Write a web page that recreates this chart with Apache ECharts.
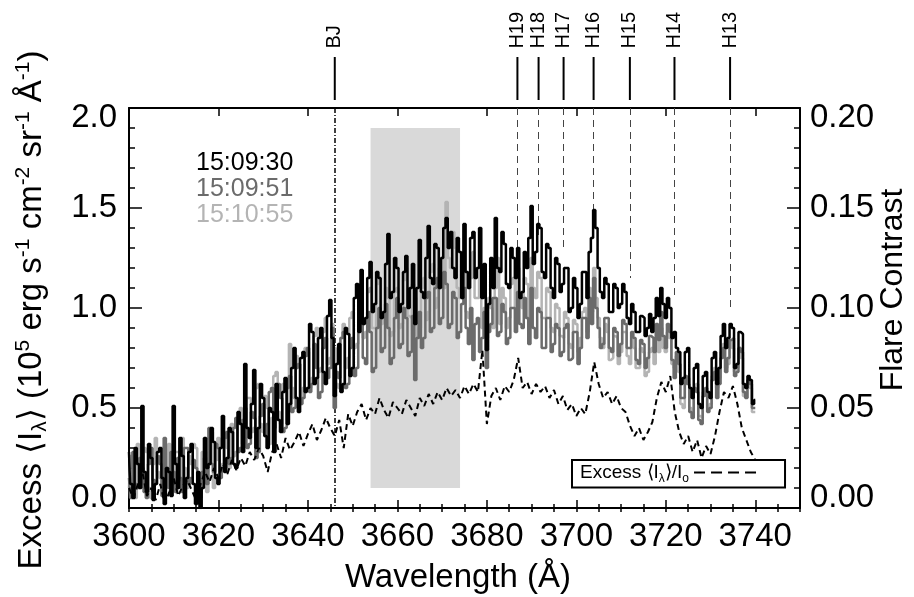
<!DOCTYPE html>
<html>
<head>
<meta charset="utf-8">
<script src="https://cdn.jsdelivr.net/npm/echarts@6/dist/echarts.min.js"></script>
<style>
  html, body { margin: 0; padding: 0; background: #fff; }
  #chart { width: 914px; height: 597px; }
</style>
</head>
<body>
<div id="chart"></div>
<script>
const FONT = '"Liberation Sans", Arial, Helvetica, sans-serif';

// spectra sampled 3600 .. 3740 A every 0.5 A
const specStart = 3600;
const specStep = 0.5;
// contrast sampled every 1 A
const contrastStart = 3600;
const contrastStep = 1;

// excess intensity, 10^5 erg/s/cm2/sr/A
const flux093 = [
  0.28, 0.12, 0.05, 0.30, 0.22, 0.10, 0.51, 0.18, 0.08, 0.32,
  0.25, 0.04, 0.12, 0.28, 0.30, 0.15, 0.02, 0.20, 0.18, 0.06,
  0.51, 0.22, 0.10, 0.35, 0.26, 0.05, 0.15, 0.28, 0.32, 0.12,
  0.02, 0.18, 0.00, 0.10, 0.35, 0.20, 0.22, 0.40, 0.33, 0.15,
  0.12, 0.30, 0.46, 0.18, 0.25, 0.40, 0.38, 0.22, 0.20, 0.48,
  0.42, 0.28, 0.72, 0.40, 0.35, 0.52, 0.69, 0.30, 0.40, 0.62,
  0.55, 0.36, 0.30, 0.50, 0.48, 0.28, 0.62, 0.44, 0.38, 0.58,
  0.65, 0.42, 0.52, 0.70, 0.80, 0.55, 0.48, 0.75, 0.78, 0.58,
  0.60, 0.92, 0.88, 0.62, 0.65, 0.85, 0.90, 0.68, 0.62, 0.96,
  1.04, 0.85, 0.56, 0.72, 0.82, 0.58, 0.62, 0.90, 0.87, 0.66,
  0.70, 1.05, 1.12, 0.88, 1.19, 0.92, 0.95, 1.15, 1.23, 0.98,
  1.02, 1.18, 1.15, 0.95, 0.98, 1.22, 1.37, 1.05, 1.08, 1.25,
  1.20, 0.98, 1.02, 1.18, 1.26, 1.00, 1.10, 1.22, 0.92, 1.10,
  1.34, 1.08, 1.05, 1.25, 1.41, 1.15, 1.12, 1.32, 1.30, 1.10,
  1.25, 1.40, 1.45, 1.30, 1.38, 1.20, 1.15, 1.35, 1.28, 1.05,
  1.42, 1.18, 1.10, 1.35, 1.38, 1.15, 1.20, 1.40, 1.05, 1.22,
  0.79, 1.02, 1.25, 1.10, 1.45, 1.20, 1.18, 1.38, 1.32, 1.12,
  1.10, 1.30, 1.25, 1.15, 1.30, 1.05, 1.08, 1.28, 1.20, 1.35,
  1.51, 1.22, 1.28, 1.42, 1.40, 1.18, 1.15, 1.32, 1.30, 1.10,
  1.05, 1.25, 1.22, 1.08, 1.12, 1.20, 1.20, 0.98, 1.00, 1.15,
  1.10, 0.95, 1.02, 1.18, 1.18, 1.05, 1.28, 1.35, 1.49, 1.40,
  1.20, 1.08, 1.05, 1.15, 1.12, 0.98, 0.98, 1.12, 1.10, 1.00,
  1.02, 1.12, 1.08, 0.95, 0.92, 1.02, 0.98, 0.88, 0.88, 0.96,
  0.95, 0.86, 0.90, 0.97, 0.88, 0.95, 1.05, 0.96, 1.10, 1.02,
  0.95, 1.05, 1.00, 0.85, 0.88, 0.80, 0.78, 0.62, 0.65, 0.78,
  0.80, 0.60, 0.55, 0.70, 0.72, 0.52, 0.50, 0.66, 0.68, 0.58,
  0.55, 0.75, 0.78, 0.62, 0.70, 0.86, 0.92, 0.80, 0.85, 0.92,
  0.90, 0.70, 0.72, 0.88, 0.87, 0.62, 0.60, 0.66, 0.64, 0.52,
  0.54
];
const flux0951 = [
  0.15, 0.05, 0.28, 0.12, 0.10, 0.25, 0.20, 0.08, 0.05, 0.22,
  0.30, 0.14, 0.12, 0.26, 0.22, 0.06, 0.35, 0.18, 0.10, 0.28,
  0.18, 0.08, 0.25, 0.15, 0.08, 0.30, 0.30, 0.12, 0.15, 0.24,
  0.20, 0.06, 0.05, 0.18, 0.25, 0.12, 0.40, 0.22, 0.18, 0.32,
  0.30, 0.15, 0.20, 0.35, 0.38, 0.22, 0.25, 0.40, 0.45, 0.28,
  0.30, 0.44, 0.50, 0.30, 0.32, 0.48, 0.45, 0.25, 0.28, 0.46,
  0.52, 0.36, 0.42, 0.58, 0.60, 0.40, 0.45, 0.62, 0.55, 0.38,
  0.40, 0.60, 0.66, 0.48, 0.50, 0.70, 0.72, 0.52, 0.55, 0.76,
  0.80, 0.58, 0.62, 0.82, 0.70, 0.55, 0.58, 0.80, 0.85, 0.65,
  0.70, 0.90, 0.50, 0.68, 0.65, 0.85, 0.88, 0.60, 0.62, 0.80,
  0.85, 0.66, 0.70, 0.92, 0.95, 0.75, 0.72, 0.98, 0.88, 0.68,
  0.70, 0.90, 1.00, 0.78, 0.80, 1.02, 0.90, 0.72, 0.75, 0.95,
  1.05, 0.80, 0.82, 1.00, 0.95, 0.76, 0.78, 0.96, 0.64, 0.85,
  0.98, 0.80, 0.85, 1.05, 1.08, 0.88, 0.90, 1.10, 1.15, 0.92,
  0.95, 1.18, 1.12, 0.90, 0.92, 1.08, 1.05, 0.85, 0.88, 1.02,
  1.10, 0.90, 0.82, 1.00, 0.74, 0.92, 0.95, 0.78, 0.85, 0.98,
  0.70, 0.88, 0.92, 1.05, 1.05, 0.86, 0.88, 1.02, 0.98, 0.82,
  0.85, 1.00, 1.00, 0.88, 1.08, 0.92, 0.90, 1.05, 0.95, 0.82,
  1.10, 0.90, 0.85, 1.00, 0.98, 0.80, 0.80, 0.95, 0.95, 0.78,
  0.82, 0.92, 0.90, 0.76, 0.78, 0.90, 0.92, 0.74, 0.75, 0.88,
  0.88, 0.72, 0.80, 0.95, 0.95, 0.85, 1.05, 0.92, 1.15, 1.00,
  0.90, 0.80, 0.82, 0.95, 0.95, 0.80, 0.78, 0.90, 0.88, 0.76,
  0.82, 0.94, 0.92, 0.80, 0.80, 0.88, 0.85, 0.74, 0.72, 0.84,
  0.82, 0.70, 0.75, 0.86, 0.85, 0.78, 0.92, 0.84, 0.98, 0.86,
  0.80, 0.92, 0.88, 0.74, 0.65, 0.78, 0.72, 0.55, 0.55, 0.66,
  0.62, 0.48, 0.45, 0.60, 0.58, 0.44, 0.42, 0.56, 0.60, 0.48,
  0.50, 0.64, 0.68, 0.55, 0.62, 0.75, 0.80, 0.68, 0.75, 0.84,
  0.85, 0.66, 0.68, 0.80, 0.78, 0.58, 0.55, 0.64, 0.62, 0.50,
  0.50
];
const flux1055 = [
  0.10, 0.26, 0.20, 0.05, 0.32, 0.16, 0.12, 0.30, 0.28, 0.10,
  0.05, 0.22, 0.35, 0.18, 0.15, 0.30, 0.25, 0.10, 0.32, 0.20,
  0.12, 0.28, 0.28, 0.14, 0.35, 0.20, 0.10, 0.26, 0.22, 0.32,
  0.30, 0.12, 0.15, 0.28, 0.20, 0.08, 0.28, 0.38, 0.10, 0.24,
  0.35, 0.18, 0.22, 0.38, 0.30, 0.20, 0.42, 0.26, 0.28, 0.45,
  0.50, 0.32, 0.35, 0.55, 0.55, 0.38, 0.40, 0.60, 0.62, 0.42,
  0.38, 0.56, 0.50, 0.32, 0.45, 0.66, 0.68, 0.48, 0.42, 0.62,
  0.58, 0.44, 0.82, 0.60, 0.55, 0.76, 0.72, 0.52, 0.60, 0.80,
  0.78, 0.60, 0.65, 0.86, 0.90, 0.68, 0.70, 0.88, 0.95, 0.72,
  0.75, 0.92, 0.80, 0.62, 0.60, 0.85, 0.92, 0.70, 0.75, 0.95,
  0.98, 0.80, 0.82, 1.02, 1.05, 0.85, 0.88, 1.08, 1.10, 0.90,
  0.90, 1.12, 1.15, 0.92, 0.95, 1.10, 1.05, 0.86, 0.88, 1.08,
  1.10, 0.90, 0.92, 1.14, 1.20, 0.96, 0.95, 1.12, 1.05, 0.86,
  0.90, 1.10, 1.15, 0.94, 0.98, 1.18, 1.22, 1.00, 1.05, 1.20,
  1.25, 1.10, 1.53, 1.25, 1.20, 1.38, 1.30, 1.10, 1.05, 1.22,
  1.18, 0.98, 0.95, 1.15, 1.28, 1.05, 1.05, 1.20, 0.90, 1.00,
  0.85, 1.05, 1.00, 0.90, 1.10, 1.25, 0.92, 1.10, 1.05, 0.90,
  0.95, 1.12, 1.15, 1.00, 1.20, 1.05, 1.00, 1.15, 1.12, 0.95,
  1.25, 1.10, 1.05, 1.18, 1.15, 0.95, 0.95, 1.10, 1.08, 0.90,
  0.88, 1.02, 1.00, 0.86, 0.85, 0.98, 0.95, 0.82, 0.80, 0.94,
  0.92, 0.78, 0.85, 0.98, 1.00, 0.88, 1.10, 0.98, 1.20, 1.05,
  0.95, 0.85, 0.80, 0.92, 0.88, 0.74, 0.75, 0.86, 0.85, 0.72,
  0.78, 0.88, 0.88, 0.76, 0.72, 0.84, 0.80, 0.70, 0.70, 0.80,
  0.78, 0.66, 0.68, 0.78, 0.80, 0.72, 0.85, 0.78, 0.90, 0.80,
  0.78, 0.88, 0.85, 0.72, 0.70, 0.76, 0.68, 0.52, 0.50, 0.62,
  0.65, 0.50, 0.48, 0.60, 0.62, 0.46, 0.45, 0.58, 0.58, 0.50,
  0.52, 0.66, 0.70, 0.60, 0.65, 0.78, 0.82, 0.70, 0.72, 0.84,
  0.80, 0.68, 0.70, 0.80, 0.75, 0.56, 0.55, 0.62, 0.60, 0.48,
  0.48
];
// flare contrast (right axis)
const contrast = [
  0.010, 0.005, 0.012, 0.018, 0.006, 0.010, 0.004, 0.012, 0.002, 0.008,
  0.015, 0.006, 0.011, 0.014, 0.009, 0.004, 0.012, 0.018, 0.013, 0.020,
  0.015, 0.022, 0.017, 0.024, 0.019, 0.025, 0.021, 0.028, 0.024, 0.030,
  0.026, 0.018, 0.028, 0.032, 0.025, 0.035, 0.029, 0.033, 0.038, 0.031,
  0.037, 0.042, 0.034, 0.039, 0.045, 0.040, 0.036, 0.044, 0.030, 0.047,
  0.041, 0.048, 0.052, 0.044, 0.050, 0.047, 0.055, 0.049, 0.045, 0.053,
  0.050, 0.047, 0.054, 0.050, 0.046, 0.055, 0.051, 0.057, 0.052, 0.058,
  0.054, 0.060, 0.056, 0.059, 0.055, 0.061, 0.057, 0.062, 0.058, 0.079,
  0.042, 0.056, 0.060, 0.054, 0.061, 0.058, 0.064, 0.075, 0.060, 0.063,
  0.057, 0.062, 0.058, 0.061, 0.055, 0.059, 0.052, 0.056, 0.049, 0.052,
  0.046, 0.050, 0.047, 0.058, 0.073, 0.062, 0.055, 0.058, 0.052, 0.056,
  0.050, 0.048, 0.041, 0.036, 0.040, 0.034, 0.038, 0.043, 0.055, 0.063,
  0.058, 0.066, 0.048, 0.038, 0.032, 0.036, 0.028, 0.034, 0.025, 0.031,
  0.027, 0.036, 0.048, 0.058, 0.055, 0.061, 0.052, 0.040, 0.034, 0.028,
  0.024
];

const seriesNames = ['15:09:30', '15:09:51', '15:10:55'];
const seriesColors = ['#000000', '#6b6b6b', '#b4b4b4'];
const contrastName = 'Excess ⟨Iλ⟩/Io';

// line identifications
const lineNames = ['BJ', 'H19', 'H18', 'H17', 'H16', 'H15', 'H14', 'H13'];
const lineWaves = [3646.0, 3686.83, 3691.56, 3697.15, 3703.86, 3711.97, 3721.94, 3734.37];
const lineEnds = [0.0, 1.25, 1.35, 1.28, 1.45, 1.15, 1.05, 1.0];

// shaded continuum window
const bandWaves = [3654, 3674];
const bandLevels = [0.1, 1.9];

const xTicks = [3600, 3620, 3640, 3660, 3680, 3700, 3720, 3740];

function pairs(vals, start, step) {
  return vals.map((v, i) => [start + i * step, v]);
}

const grid = { left: 129, right: 114, top: 108, bottom: 89 };

function majorX(pos, showLabel) {
  return {
    type: 'value', gridIndex: 0, position: pos, min: 3600, max: 3750, interval: 20,
    axisLine: { show: true, onZero: false, lineStyle: { color: '#000', width: 2 } },
    axisTick: { show: true, inside: true, length: 8, lineStyle: { color: '#000', width: 1.5 } },
    axisLabel: {
      show: showLabel, color: '#000', fontSize: 33, fontFamily: FONT, margin: 12,
      formatter: v => (xTicks.indexOf(v) >= 0 ? String(v) : ''),
    },
    splitLine: { show: false },
  };
}
function minorX(pos) {
  return {
    type: 'value', gridIndex: 1, position: pos, min: 3600, max: 3750, interval: 5,
    axisLine: { show: false },
    axisTick: { show: true, inside: true, length: 4, lineStyle: { color: '#000', width: 1.5 } },
    axisLabel: { show: false },
    splitLine: { show: false },
  };
}
function majorY(pos, max, step, digits) {
  return {
    type: 'value', gridIndex: 0, position: pos, min: 0, max: max, interval: step,
    axisLine: { show: true, onZero: false, lineStyle: { color: '#000', width: 2 } },
    axisTick: { show: true, inside: true, length: 13, lineStyle: { color: '#000', width: 1.5 } },
    axisLabel: {
      color: '#000', fontSize: 33, fontFamily: FONT, lineHeight: 20,
      margin: pos === 'left' ? 12 : 10,
      formatter: v => v.toFixed(digits),
      verticalAlignMinLabel: 'bottom', verticalAlignMaxLabel: 'top',
    },
    splitLine: { show: false },
  };
}
function minorY(pos, max, step) {
  return {
    type: 'value', gridIndex: 1, position: pos, min: 0, max: max, interval: step,
    axisLine: { show: false },
    axisTick: { show: true, inside: true, length: 6, lineStyle: { color: '#000', width: 1.5 } },
    axisLabel: { show: false },
    splitLine: { show: false },
  };
}

const markLines = lineWaves.map((w, i) => [
  {
    coord: [w, 2.0],
    lineStyle: i === 0
      ? { color: '#000', width: 1.5, type: [5, 2, 1, 2] }
      : { color: '#444', width: 1, type: [7, 5] },
  },
  { coord: [w, lineEnds[i]] },
]);

const chart = echarts.init(document.getElementById('chart'), null, { renderer: 'canvas' });
chart.setOption({
  animation: false,
  backgroundColor: '#fff',
  grid: [
    Object.assign({}, grid),
    Object.assign({}, grid),
    { left: 129, right: 114, top: 0, height: 108 },
  ],
  xAxis: [
    majorX('bottom', true),
    majorX('top', false),
    minorX('bottom'),
    minorX('top'),
    { type: 'value', gridIndex: 2, min: 3600, max: 3750, show: false },
  ],
  yAxis: [
    majorY('left', 2.0, 0.5, 1),
    majorY('right', 0.2, 0.05, 2),
    minorY('left', 2.0, 0.1),
    minorY('right', 0.2, 0.01),
    { type: 'value', gridIndex: 2, min: 0, max: 1, show: false },
  ],
  legend: [
    {
      left: 182, top: 146, orient: 'vertical', itemGap: 1,
      itemWidth: 0, itemHeight: 10, selectedMode: false,
      itemStyle: { opacity: 0 }, lineStyle: { opacity: 0 },
      textStyle: { fontSize: 25, fontFamily: FONT },
      data: seriesNames.map((n, i) => ({ name: n, textStyle: { color: seriesColors[i] } })),
    },
    {
      left: 572, top: 460, orient: 'horizontal', align: 'right',
      itemWidth: 62, itemHeight: 12, selectedMode: false,
      itemStyle: { opacity: 0 },
      lineStyle: { color: '#000', width: 2, type: [11, 6] },
      padding: [3, 28, 3, 8], borderColor: '#000', borderWidth: 2,
      data: [contrastName],
      formatter: () => '{n|Excess ⟨I}{s|λ}{n|⟩/I}{s|o}',
      textStyle: {
        color: '#000', fontFamily: FONT,
        rich: {
          n: { fontSize: 19, fontFamily: FONT, color: '#000', lineHeight: 24 },
          s: { fontSize: 12, fontFamily: FONT, color: '#000', verticalAlign: 'bottom', lineHeight: 12 },
        },
      },
    },
  ],
  graphic: [
    {
      type: 'text', x: 32, y: 310, rotation: Math.PI / 2,
      style: {
        text: '{n|Excess ⟨I}{sub|λ}{n|⟩ (10}{sup|5}{n| erg s}{sup|-1}{n| cm}{sup|-2}{n| sr}{sup|-1}{n| Å}{sup|-1}{n|)}',
        align: 'center', verticalAlign: 'middle', fill: '#000',
        rich: {
          n: { fontSize: 33, fontFamily: FONT, fill: '#000', lineHeight: 38 },
          sup: { fontSize: 21, fontFamily: FONT, fill: '#000', verticalAlign: 'top', lineHeight: 22 },
          sub: { fontSize: 21, fontFamily: FONT, fill: '#000', verticalAlign: 'bottom', lineHeight: 22 },
        },
      },
    },
    {
      type: 'text', x: 893, y: 290, rotation: Math.PI / 2,
      style: {
        text: 'Flare Contrast', fontSize: 32, fontFamily: FONT, fill: '#000',
        align: 'center', verticalAlign: 'middle',
      },
    },
    {
      type: 'text', x: 458, y: 578,
      style: {
        text: 'Wavelength (Å)', fontSize: 33, fontFamily: FONT, fill: '#000',
        align: 'center', verticalAlign: 'middle',
      },
    },
  ],
  series: [
    {
      name: seriesNames[2], type: 'line', xAxisIndex: 0, yAxisIndex: 0,
      data: pairs(flux1055, specStart, specStep), step: 'middle', symbol: 'none', z: 2,
      lineStyle: { color: seriesColors[2], width: 2.5 }, itemStyle: { color: seriesColors[2] },
      markArea: {
        silent: true, z: 1, itemStyle: { color: '#d9d9d9' },
        data: [[{ coord: [bandWaves[0], bandLevels[0]] }, { coord: [bandWaves[1], bandLevels[1]] }]],
      },
      markLine: {
        silent: true, z: 1, symbol: ['none', 'none'], label: { show: false },
        data: markLines,
      },
    },
    {
      name: seriesNames[1], type: 'line', xAxisIndex: 0, yAxisIndex: 0,
      data: pairs(flux0951, specStart, specStep), step: 'middle', symbol: 'none', z: 3,
      lineStyle: { color: seriesColors[1], width: 2.5 }, itemStyle: { color: seriesColors[1] },
    },
    {
      name: seriesNames[0], type: 'line', xAxisIndex: 0, yAxisIndex: 0,
      data: pairs(flux093, specStart, specStep), step: 'middle', symbol: 'none', z: 4,
      lineStyle: { color: seriesColors[0], width: 2.5 }, itemStyle: { color: seriesColors[0] },
    },
    {
      name: contrastName, type: 'line', xAxisIndex: 0, yAxisIndex: 1,
      data: pairs(contrast, contrastStart, contrastStep), symbol: 'none', z: 5,
      lineStyle: { color: '#000', width: 2, type: [6, 4] }, itemStyle: { color: '#000' },
    },
    {
      type: 'custom', xAxisIndex: 4, yAxisIndex: 4, clip: false, silent: true,
      data: lineWaves.map(w => [w, 0]),
      renderItem: function (params, api) {
        const x = api.coord([api.value(0), 0])[0];
        const yLo = api.coord([api.value(0), 0.074])[1];
        const yHi = api.coord([api.value(0), 0.472])[1];
        const yText = api.coord([api.value(0), 0.55])[1];
        return {
          type: 'group',
          children: [
            { type: 'line', shape: { x1: x, y1: yLo, x2: x, y2: yHi }, style: { stroke: '#000', lineWidth: 2 } },
            {
              type: 'text', x: x, y: yText, rotation: Math.PI / 2,
              style: {
                text: lineNames[params.dataIndex], fontSize: 20, fontFamily: FONT, fill: '#000',
                align: 'left', verticalAlign: 'middle',
              },
            },
          ],
        };
      },
    },
  ],
});
</script>
</body>
</html>
